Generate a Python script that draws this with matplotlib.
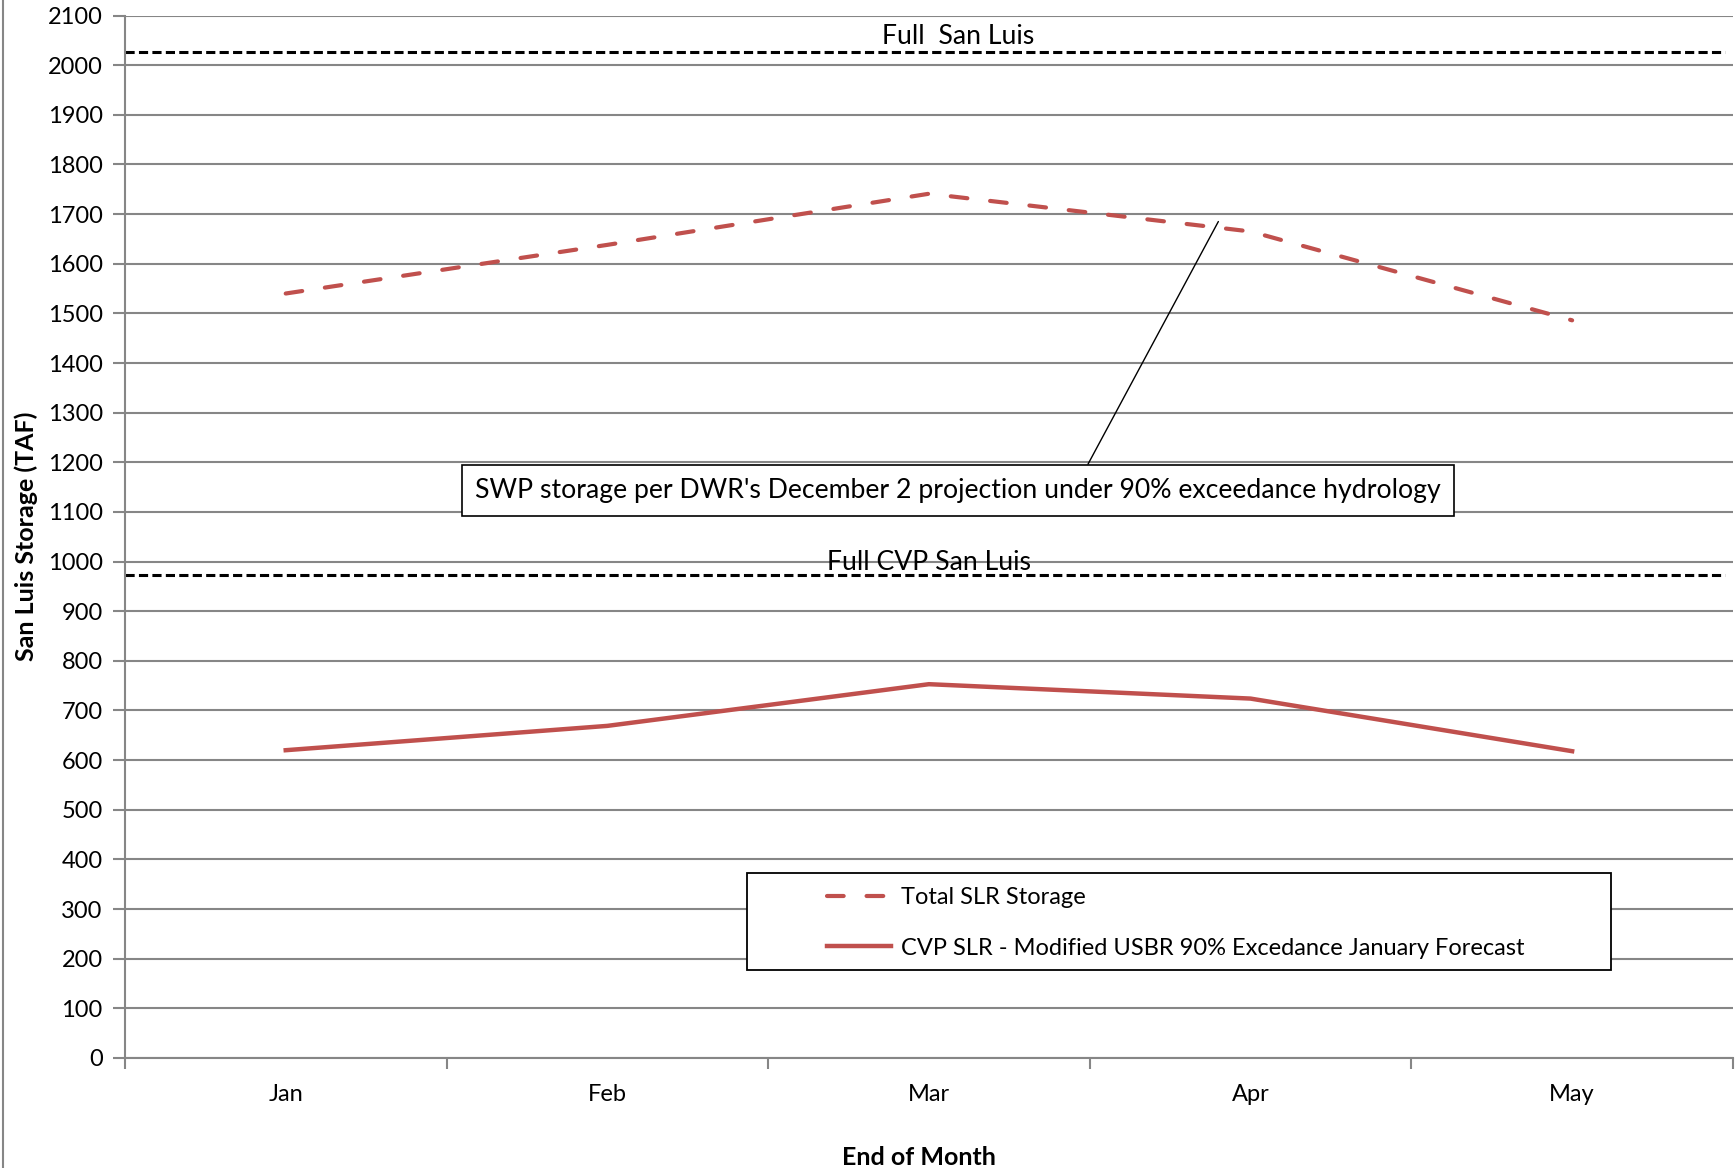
import matplotlib
matplotlib.use('Agg')
import matplotlib.pyplot as plt
import numpy as np
from matplotlib.lines import Line2D
from matplotlib.patches import Rectangle

months = ['Jan', 'Feb', 'Mar', 'Apr', 'May']
total_slr = [1540, 1638, 1741, 1665, 1486]
cvp_slr = [620, 669, 753, 724, 618]
full_san_luis = 2027
full_cvp_san_luis = 972
y_ticks = list(range(0, 2101, 100))

plt.rcParams['font.family'] = ['Lato', 'DejaVu Sans']
red = '#C0504D'
grid_gray = '#868686'
fs_tick = 17
fs_note = 19.2

fig = plt.figure(figsize=(17.35, 11.68), dpi=100)
ax = fig.add_axes([0.072, 0.0942, 0.9268, 0.8925])

x = np.arange(len(months))
ax.plot(x, total_slr, color=red, linewidth=3.0, linestyle=(0, (4, 5.5)),
        dash_capstyle='round', label='Total SLR Storage')
ax.plot(x, cvp_slr, color=red, linewidth=3.2,
        label='CVP SLR - Modified USBR 90% Excedance January Forecast')

ax.axhline(full_san_luis, xmin=0, xmax=0.995, color='black', linewidth=2.2,
           linestyle=(0, (3, 1.4)))
ax.axhline(full_cvp_san_luis, xmin=0, xmax=0.995, color='black', linewidth=2.2,
           linestyle=(0, (3, 1.4)))
ax.text(2.09, full_san_luis + 5, 'Full  San Luis', ha='center', va='bottom', fontsize=fs_note)
ax.text(2.0, full_cvp_san_luis, 'Full CVP San Luis', ha='center', va='bottom', fontsize=fs_note)

# callout for SWP storage
ax.annotate("SWP storage per DWR's December 2 projection under 90% exceedance hydrology",
            xy=(2.90, 1685), xytext=(2.09, 1143), ha='center', va='center',
            fontsize=fs_note,
            bbox=dict(boxstyle='square,pad=0.5', fc='white', ec='black', lw=1.2),
            arrowprops=dict(arrowstyle='-', color='black', lw=1.0,
                            relpos=(0.627, 1.0), shrinkA=0, shrinkB=0))

ax.set_xlim(-0.5, len(months) - 0.5)
ax.set_ylim(0, 2100)
ax.set_yticks(y_ticks)
ax.set_xticks(x)
ax.set_xticklabels(months)
ax.set_xticks(np.arange(-0.5, len(months), 1.0), minor=True)
ax.tick_params(axis='x', which='major', length=0, pad=19, labelsize=fs_tick)
ax.tick_params(axis='x', which='minor', length=8, width=1.5, color=grid_gray)
ax.tick_params(axis='y', length=9, width=1.5, color=grid_gray, pad=7, labelsize=fs_tick)
ax.grid(axis='y', color=grid_gray, linewidth=1.5)
ax.set_axisbelow(True)
for s in ['top', 'right']:
    ax.spines[s].set_visible(False)
for s in ['left', 'bottom']:
    ax.spines[s].set_color(grid_gray)
    ax.spines[s].set_linewidth(1.5)

ax.set_ylabel('San Luis Storage (TAF)', fontsize=18, fontweight='bold', labelpad=7)
ax.set_xlabel('End of Month', fontsize=18, fontweight='bold', va='center')
ax.xaxis.set_label_coords(0.4935, -0.095)

# legend box
fig.add_artist(Rectangle((747 / 1735, 1 - 970 / 1168), 864 / 1735, 97 / 1168,
                         transform=fig.transFigure, fill=True, fc='white',
                         ec='black', lw=1.3, zorder=5))
leg = fig.legend(loc='center left', bbox_to_anchor=(815 / 1735, 1 - 923 / 1168),
                 frameon=False, fontsize=fs_tick, handlelength=2.7, handletextpad=0.45,
                 labelspacing=1.25, borderpad=0)
leg.set_zorder(6)

# chart border on the left
fig.add_artist(Line2D([3 / 1735, 3 / 1735], [0, 1], transform=fig.transFigure,
                      color=grid_gray, lw=1.5))

fig.savefig('out.png', dpi=100)
